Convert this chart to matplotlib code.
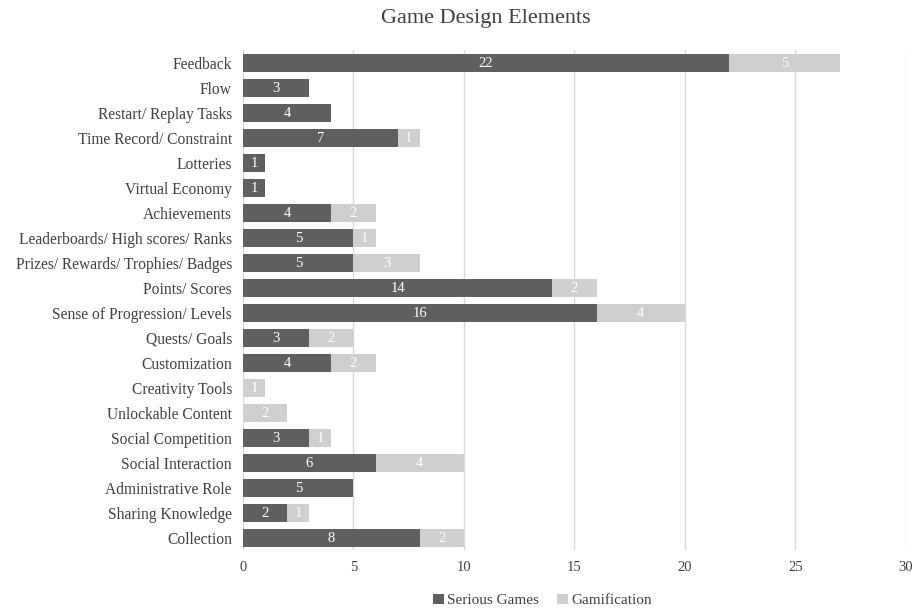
import matplotlib
matplotlib.use("Agg")
import matplotlib.pyplot as plt
import numpy as np

plt.rcParams['font.family'] = ['Liberation Serif', 'DejaVu Serif']

# datos
categorias = ["Feedback", "Flow", "Restart/ Replay Tasks", "Time Record/ Constraint",
              "Lotteries", "Virtual Economy", "Achievements",
              "Leaderboards/ High scores/ Ranks", "Prizes/ Rewards/ Trophies/ Badges",
              "Points/ Scores", "Sense of Progression/ Levels", "Quests/ Goals",
              "Customization", "Creativity Tools", "Unlockable Content",
              "Social Competition", "Social Interaction", "Administrative Role",
              "Sharing Knowledge", "Collection"]
serious = [22, 3, 4, 7, 1, 1, 4, 5, 5, 14, 16, 3, 4, 0, 0, 3, 6, 5, 2, 8]
gamif = [5, 0, 0, 1, 0, 0, 2, 1, 3, 2, 4, 2, 2, 1, 2, 1, 4, 0, 1, 2]

oscuro = '#5f5f5f'
claro = '#cfcfcf'

fig = plt.figure(figsize=(9.15, 6.12), dpi=100)
ax = fig.add_axes([0.2656, 0.101, 0.7244, 0.817])

y = np.arange(len(categorias))
b1 = ax.barh(y, serious, height=0.72, color=oscuro, label='Serious Games', zorder=3)
b2 = ax.barh(y, gamif, left=serious, height=0.72, color=claro, label='Gamification', zorder=3)

# etiquetas dentro de las barras
for i in range(len(categorias)):
    if serious[i] > 0:
        ax.text(serious[i] / 2, y[i] + 0.05, str(serious[i]), ha='center', va='center',
                color='white', fontsize=10.5, zorder=4)
    if gamif[i] > 0:
        ax.text(serious[i] + gamif[i] / 2, y[i] + 0.05, str(gamif[i]), ha='center', va='center',
                color='white', fontsize=10.5, zorder=4)

ax.set_xlim(0, 30)
ax.set_ylim(len(categorias) - 0.5, -0.5)
ax.set_xticks(range(0, 31, 5))
ax.set_yticks(y)
ax.set_yticklabels(categorias, fontsize=11.2)
ax.tick_params(axis='both', length=0, colors='#404040')
ax.tick_params(axis='x', pad=8, labelsize=10.5)
ax.tick_params(axis='y', pad=8)
ax.grid(axis='x', color='#d9d9d9', linewidth=1, zorder=0)
for s in ax.spines.values():
    s.set_visible(False)

fig.suptitle("Game Design Elements", fontsize=16, color='#404040', x=0.531, y=0.985)
fig.legend(handles=[b1, b2], loc='lower center', bbox_to_anchor=(0.593, -0.015),
           ncol=2, frameon=False, fontsize=11, handlelength=0.7, handleheight=0.7,
           handletextpad=0.2, columnspacing=1.2, labelcolor='#404040')

fig.savefig("out.png", dpi=100)
